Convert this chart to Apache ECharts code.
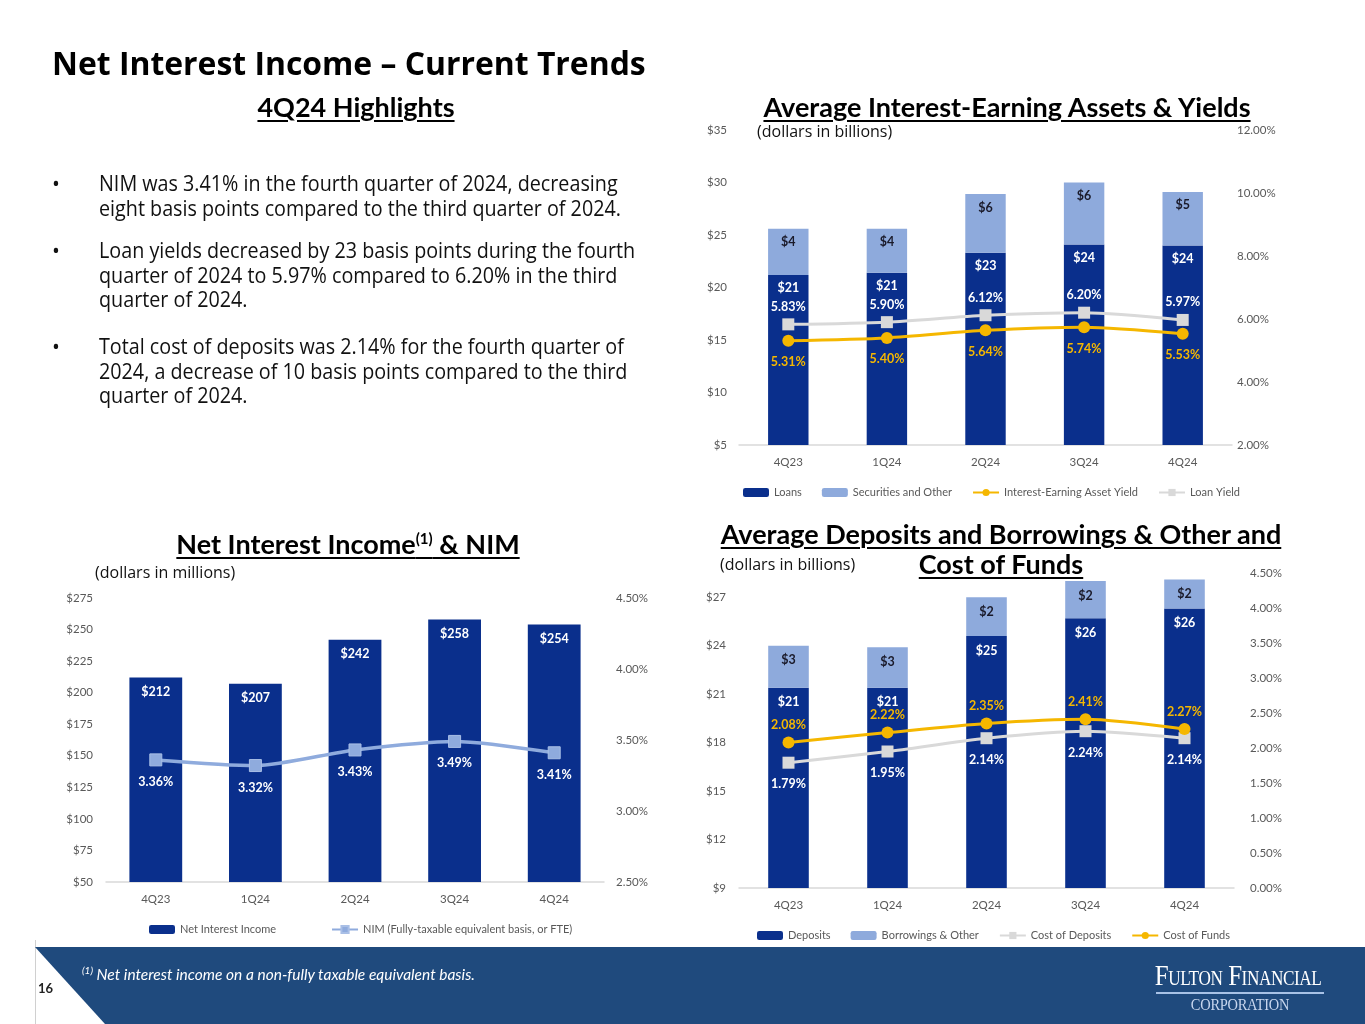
<!DOCTYPE html>
<html><head><meta charset="utf-8">
<script src="https://cdn.jsdelivr.net/npm/echarts@6/dist/echarts.min.js"></script>
<style>
html,body{margin:0;padding:0;background:#fff;}
#wrap{position:relative;width:1365px;height:1024px;overflow:hidden;}
#chart{position:absolute;left:0;top:0;width:1365px;height:1024px;}
.t{position:absolute;white-space:nowrap;color:#000;}
.h{font-family:'Lato',sans-serif;font-weight:700;font-size:27px;line-height:30px;text-decoration:underline;text-decoration-thickness:2px;text-underline-offset:3px;}
.sub{font-family:'Open Sans',sans-serif;font-size:16px;color:#111;}
.bul{position:absolute;left:52px;font-family:'Open Sans',sans-serif;font-size:21px;line-height:24.5px;color:#111;white-space:nowrap;}
.bul span.d{position:absolute;left:0;top:0;font-size:21px;}
.bul div.x{margin-left:47px;transform:scaleX(0.94);transform-origin:0 0;}
#footer{position:absolute;left:0;top:947px;width:1365px;height:77px;background:#1f4a7d;clip-path:polygon(35px 0,1365px 0,1365px 77px,105px 77px);}
</style></head>
<body><div id="wrap">
<div id="chart"></div>
<div class="t" style="left:52px;top:44px;font-family:'Open Sans',sans-serif;font-weight:700;font-size:31.9px;line-height:38px;">Net Interest Income – Current Trends</div>
<div class="t h" style="left:356px;top:92px;transform:translateX(-50%);">4Q24 Highlights</div>

<div class="bul" style="top:171px;"><span class="d">•</span><div class="x">NIM was 3.41% in the fourth quarter of 2024, decreasing<br>eight basis points compared to the third quarter of 2024.</div></div>
<div class="bul" style="top:238px;"><span class="d">•</span><div class="x">Loan yields decreased by 23 basis points during the fourth<br>quarter of 2024 to 5.97% compared to 6.20% in the third<br>quarter of 2024.</div></div>
<div class="bul" style="top:334px;"><span class="d">•</span><div class="x">Total cost of deposits was 2.14% for the fourth quarter of<br>2024, a decrease of 10 basis points compared to the third<br>quarter of 2024.</div></div>

<div class="t h" style="left:1007px;top:92px;transform:translateX(-50%);">Average Interest-Earning Assets &amp; Yields</div>
<div class="t sub" style="left:757px;top:121px;line-height:20px;">(dollars in billions)</div>

<div class="t h" style="left:348px;top:523px;transform:translateX(-50%);">Net Interest Income<sup style="font-size:15px;">(1)</sup> &amp; NIM</div>
<div class="t sub" style="left:95px;top:562px;line-height:20px;">(dollars in millions)</div>

<div class="t h" style="left:1001px;top:519px;transform:translateX(-50%);">Average Deposits and Borrowings &amp; Other and</div>
<div class="t h" style="left:1001px;top:549px;transform:translateX(-50%);">Cost of Funds</div>
<div class="t sub" style="left:720px;top:554px;line-height:20px;">(dollars in billions)</div>

<div style="position:absolute;left:35px;top:940px;width:1px;height:84px;background:#d0d0d0;"></div>
<div id="footer"></div>
<div class="t" style="left:38px;top:979px;font-family:'Lato',sans-serif;font-weight:700;font-size:13px;line-height:18px;color:#222;">16</div>
<div class="t" style="left:82px;top:961px;font-family:'Lato',sans-serif;font-style:italic;font-size:15.5px;line-height:18px;color:#fff;"><sup style="font-size:10px;">(1)</sup> Net interest income on a non-fully taxable equivalent basis.</div>
<div class="t" style="left:1238px;top:960px;font-family:'Liberation Serif',serif;font-variant:small-caps;font-size:29px;line-height:30px;color:#fff;letter-spacing:-0.5px;transform:translateX(-50%) scaleX(0.86);">Fulton Financial</div>
<div style="position:absolute;left:1156px;top:992px;width:168px;height:2px;background:#a8c2e6;"></div>
<div class="t" style="left:1240px;top:996px;font-family:'Liberation Serif',serif;font-size:17px;line-height:18px;color:#c7d6ee;letter-spacing:-0.3px;transform:translateX(-50%) scaleX(0.85);">CORPORATION</div>
</div>
<script>
const categories = ['4Q23','1Q24','2Q24','3Q24','4Q24'];
// Average Interest-Earning Assets & Yields ($B, %)
const loans = [21.2, 21.4, 23.3, 24.1, 24.0];
const securities = [4.4, 4.2, 5.6, 5.9, 5.1];
const ieaYield = [5.31, 5.40, 5.64, 5.74, 5.53];
const loanYield = [5.83, 5.90, 6.12, 6.20, 5.97];
// Net Interest Income ($M) & NIM (%)
const netInterestIncome = [212, 207, 242, 258, 254];
const nim = [3.36, 3.32, 3.43, 3.49, 3.41];
// Average Deposits and Borrowings & Other ($B) & Cost of Funds (%)
const deposits = [21.4, 21.4, 24.6, 25.7, 26.3];
const borrowings = [2.6, 2.5, 2.4, 2.3, 1.8];
const costOfDeposits = [1.79, 1.95, 2.14, 2.24, 2.14];
const costOfFunds = [2.08, 2.22, 2.35, 2.41, 2.27];
// axis ranges
const assetsAxis = {min: 5, max: 35, interval: 5};
const yieldAxis = {min: 2, max: 12, interval: 2};
const niiAxis = {min: 50, max: 275, interval: 25};
const nimAxis = {min: 2.5, max: 4.5, interval: 0.5};
const depAxis = {min: 9, max: 28.5, interval: 3};
const cofAxis = {min: 0, max: 4.5, interval: 0.5};

const NAVY = '#0a2f8c', LIGHT = '#8eaadc', GOLD = '#f5b700', GRAY = '#d9d9d9', NIMC = '#8fabdd';
const FONT = 'Lato';
const axisTxt = {color: '#595959', fontSize: 11.5, fontFamily: FONT};
const dollar = v => '$' + v;
const pct = v => v.toFixed(2) + '%';

function xAx(gi) {
  return {type: 'category', gridIndex: gi, data: categories,
    axisLine: {lineStyle: {color: '#d9d9d9', width: 1.5}}, axisTick: {show: false},
    axisLabel: Object.assign({margin: 11}, axisTxt)};
}
function yAx(gi, r, fmt, pos, margin, extra) {
  return Object.assign({type: 'value', gridIndex: gi, position: pos, min: r.min, max: r.max, interval: r.interval,
    splitLine: {show: false}, axisLine: {show: false}, axisTick: {show: false},
    axisLabel: Object.assign({formatter: fmt, margin: margin}, axisTxt)}, extra || {});
}
const barLbl = (color, dist) => ({show: true, position: 'insideTop', distance: dist, color: color, fontWeight: 'bold', fontSize: 12.5, fontFamily: FONT,
  formatter: p => '$' + Math.round(p.value)});
const lineLbl = (color, pos, dist) => ({show: true, position: pos, distance: dist, color: color, fontWeight: 'bold', fontSize: 12.5, fontFamily: FONT,
  formatter: p => p.value.toFixed(2) + '%'});

const legendBase = {itemWidth: 26, itemHeight: 9, textStyle: {color: '#595959', fontSize: 11, fontFamily: FONT}};

const option = {
  animation: false,
  textStyle: {fontFamily: FONT},
  grid: [
    {left: 739, width: 493, top: 130, height: 315},
    {left: 106, width: 498, top: 598, height: 284},
    {left: 739, width: 495, top: 573, height: 315}
  ],
  xAxis: [xAx(0), xAx(1), xAx(2)],
  yAxis: [
    yAx(0, assetsAxis, dollar, 'left', 12),
    yAx(0, yieldAxis, pct, 'right', 5),
    yAx(1, niiAxis, dollar, 'left', 13),
    yAx(1, nimAxis, pct, 'right', 12),
    yAx(2, depAxis, dollar, 'left', 13, {axisLabel: Object.assign({formatter: dollar, margin: 13, showMaxLabel: false}, axisTxt)}),
    yAx(2, cofAxis, pct, 'right', 16)
  ],
  legend: [
    Object.assign({}, legendBase, {top: 482, left: 738, itemGap: 20,
      data: ['Loans', 'Securities and Other', 'Interest-Earning Asset Yield', 'Loan Yield']}),
    Object.assign({}, legendBase, {top: 919, left: 144, itemGap: 55,
      data: ['Net Interest Income', 'NIM (Fully-taxable equivalent basis, or FTE)']}),
    Object.assign({}, legendBase, {top: 925, left: 752, itemGap: 20,
      data: ['Deposits', 'Borrowings & Other', 'Cost of Deposits', 'Cost of Funds']})
  ],
  series: [
    {name: 'Loans', type: 'bar', xAxisIndex: 0, yAxisIndex: 0, stack: 'a', barWidth: '41%', data: loans,
      itemStyle: {color: NAVY}, label: barLbl('#fff', 7)},
    {name: 'Securities and Other', type: 'bar', xAxisIndex: 0, yAxisIndex: 0, stack: 'a', barWidth: '41%', data: securities,
      itemStyle: {color: LIGHT}, label: barLbl('#1a1a2a', 7)},
    {name: 'Interest-Earning Asset Yield', type: 'line', xAxisIndex: 0, yAxisIndex: 1, data: ieaYield, smooth: 0.25,
      symbol: 'circle', symbolSize: 12, lineStyle: {color: GOLD, width: 3}, itemStyle: {color: GOLD},
      label: lineLbl(GOLD, 'bottom', 9), z: 5},
    {name: 'Loan Yield', type: 'line', xAxisIndex: 0, yAxisIndex: 1, data: loanYield, smooth: 0.25,
      symbol: 'rect', symbolSize: 12, lineStyle: {color: GRAY, width: 3}, itemStyle: {color: GRAY},
      label: lineLbl('#fff', 'top', 5), z: 5},

    {name: 'Net Interest Income', type: 'bar', xAxisIndex: 1, yAxisIndex: 2, barWidth: '53%', data: netInterestIncome,
      itemStyle: {color: NAVY}, label: barLbl('#fff', 8)},
    {name: 'NIM (Fully-taxable equivalent basis, or FTE)', type: 'line', xAxisIndex: 1, yAxisIndex: 3, data: nim, smooth: 0.25,
      symbol: 'rect', symbolSize: 12, lineStyle: {color: NIMC, width: 3.5}, itemStyle: {color: NIMC, borderColor: '#a9bfe6', borderWidth: 1},
      label: lineLbl('#fff', 'bottom', 9), z: 5},

    {name: 'Deposits', type: 'bar', xAxisIndex: 2, yAxisIndex: 4, stack: 'b', barWidth: '41%', data: deposits,
      itemStyle: {color: NAVY}, label: barLbl('#fff', 8)},
    {name: 'Borrowings & Other', type: 'bar', xAxisIndex: 2, yAxisIndex: 4, stack: 'b', barWidth: '41%', data: borrowings,
      itemStyle: {color: LIGHT}, label: barLbl('#1a1a2a', 8)},
    {name: 'Cost of Deposits', type: 'line', xAxisIndex: 2, yAxisIndex: 5, data: costOfDeposits, smooth: 0.25,
      symbol: 'rect', symbolSize: 12, lineStyle: {color: GRAY, width: 3}, itemStyle: {color: GRAY},
      label: lineLbl('#fff', 'bottom', 9), z: 5},
    {name: 'Cost of Funds', type: 'line', xAxisIndex: 2, yAxisIndex: 5, data: costOfFunds, smooth: 0.25,
      symbol: 'circle', symbolSize: 12, lineStyle: {color: GOLD, width: 3}, itemStyle: {color: GOLD},
      label: lineLbl(GOLD, 'top', 5), z: 5}
  ]
};
const chart = echarts.init(document.getElementById('chart'), null, {renderer: 'canvas'});
chart.setOption(option);
</script>
</body></html>
